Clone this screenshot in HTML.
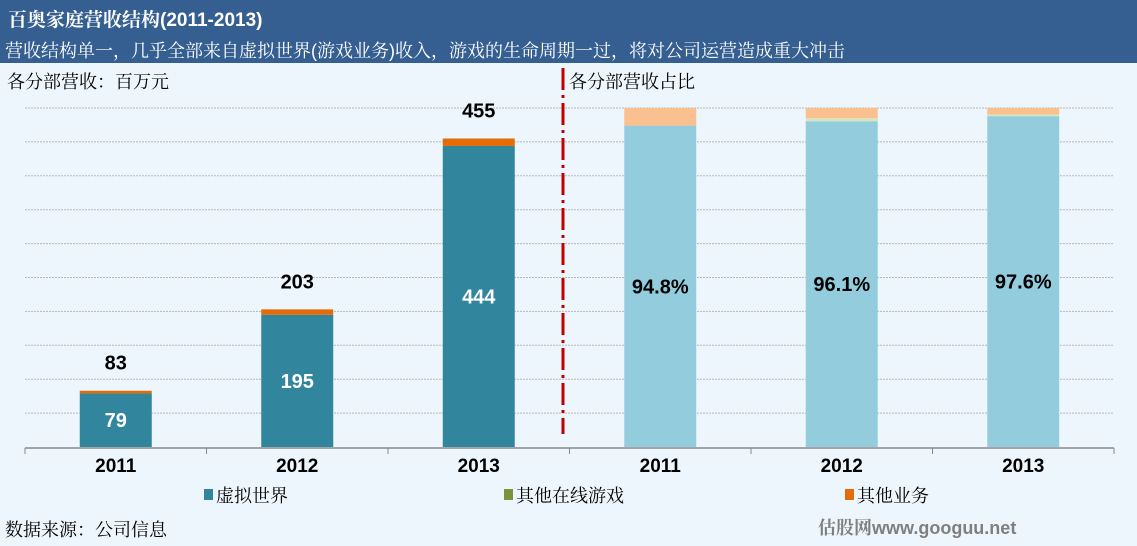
<!DOCTYPE html>
<html><head><meta charset="utf-8"><style>
body{margin:0;width:1137px;height:546px;overflow:hidden;background:#eef6fd;font-family:"Liberation Sans","Noto Serif CJK SC","Noto Sans CJK SC",sans-serif;}
#hdr{position:absolute;left:0;top:0;width:1137px;height:63px;background:#365f91;}
.t{position:absolute;color:#fff;white-space:nowrap;}
</style></head><body>
<div id="hdr">
<div class="t" style="left:8px;top:5px;font-size:19px;font-weight:bold;">百奥家庭营收结构(2011-2013)</div>
<div class="t" style="left:5px;top:37px;font-size:18px;">营收结构单一，几乎全部来自虚拟世界(游戏业务)收入，游戏的生命周期一过，将对公司运营造成重大冲击</div>
</div>
<svg id="c" width="1137" height="546" style="position:absolute;left:0;top:0"></svg>
<script>
const categories=["2011","2012","2013"];
const virtualWorld=[79,195,444];
const otherOnline=[0,0,0];
const otherBiz=[4,8,11];
const totals=[83,203,455];
const pctVirtual=[94.8,96.1,97.6];
const pctOnline=[0,0.9,0.5];
const pctOther=[5.2,3.0,1.9];
const NS="http://www.w3.org/2000/svg";
const svg=document.getElementById('c');
function mk(t,a,p){const e=document.createElementNS(NS,t);for(const k in a)e.setAttribute(k,a[k]);(p||svg).appendChild(e);return e;}
const x0=25,x1=1114,yb=447,yt=108,step=(x1-x0)/6,bw=72;
const yL=v=>yb-(v/500)*(yb-yt);
const yP=v=>yb-(v/100)*(yb-yt);
// grid
for(let i=1;i<=10;i++){const y=yb-i*(yb-yt)/10;const g=mk('line',{x1:x0,x2:x1,y1:y,y2:y,stroke:'#b8b8b8','stroke-dasharray':'2,1'});

}
function txt(x,y,s,o){const e=mk('text',Object.assign({x:x,y:y,'text-anchor':'middle','font-size':20,'font-weight':'bold',fill:'#000'},o||{}));e.textContent=s;return e;}
function rect(x,y,w,h,f,n){const r=mk('rect',{x:x,y:y,width:w,height:Math.max(0,h),fill:f});

return r;}
categories.forEach((c,i)=>{
 const cx=x0+step*(i+0.5);
 const a=yL(virtualWorld[i]),b=yL(virtualWorld[i]+otherOnline[i]),d=yL(virtualWorld[i]+otherOnline[i]+otherBiz[i]);
 rect(cx-bw/2,a,bw,yb-a,'#31859c','bar-virtual-'+c);
 rect(cx-bw/2,b,bw,a-b,'#77933c','bar-online-'+c);
 rect(cx-bw/2,d,bw,b-d,'#e36c09','bar-other-'+c);
 const v=txt(cx,(a+yb)/2+7,String(virtualWorld[i]),{fill:'#fff'});
 
 
 const t=txt(cx,d-21,String(totals[i]));
 
 
 const cl=txt(cx,472,c,{'font-size':19});
 
 
 const px=x0+step*(i+3.5);
 const pa=yP(pctVirtual[i]),pb=yP(pctVirtual[i]+pctOnline[i]),pd=yP(pctVirtual[i]+pctOnline[i]+pctOther[i]);
 rect(px-bw/2,pa,bw,yb-pa,'#93cddd','pct-virtual-'+c);
 rect(px-bw/2,pb,bw,pa-pb,'#d7e4bd','pct-online-'+c);
 rect(px-bw/2,pd,bw,pb-pd,'#fac090','pct-other-'+c);
 const pl=txt(px,(pa+yb)/2+7,pctVirtual[i].toFixed(1)+'%');
 
 
 const cl2=txt(px,472,c,{'font-size':19});
 
 
});
const ax=mk('line',{x1:x0,x2:x1,y1:yb+1,y2:yb+1,stroke:'#888','stroke-width':1.5});


for(let i=0;i<=6;i++){const x=x0+step*i;mk('line',{x1:x,x2:x,y1:yb+1,y2:yb+7,stroke:'#888'});}
const dv=mk('line',{x1:563,x2:563,y1:68,y2:434,stroke:'#c00000','stroke-width':3,'stroke-dasharray':'22,5,3,5'});


function lbl(x,y,s,n,o){const e=mk('text',Object.assign({x:x,y:y,'font-size':18,fill:'#000'},o||{}));e.textContent=s;

return e;}
lbl(7,88,'各分部营收：百万元','left-axis-title');
lbl(569,88,'各分部营收占比','right-axis-title');
const leg=[['虚拟世界','#31859c',204],['其他在线游戏','#77933c',504],['其他业务','#e36c09',845]];
leg.forEach(l=>{const r=mk('rect',{x:l[2],y:489,width:9,height:11,fill:l[1]});


lbl(l[2]+12,502,l[0],'legend-entry');});
lbl(5,536,'数据来源：公司信息','source-note');
lbl(818,534,'估股网www.googuu.net','watermark',{fill:'#7f7f7f','font-weight':'bold'});
</script>
</body></html>
